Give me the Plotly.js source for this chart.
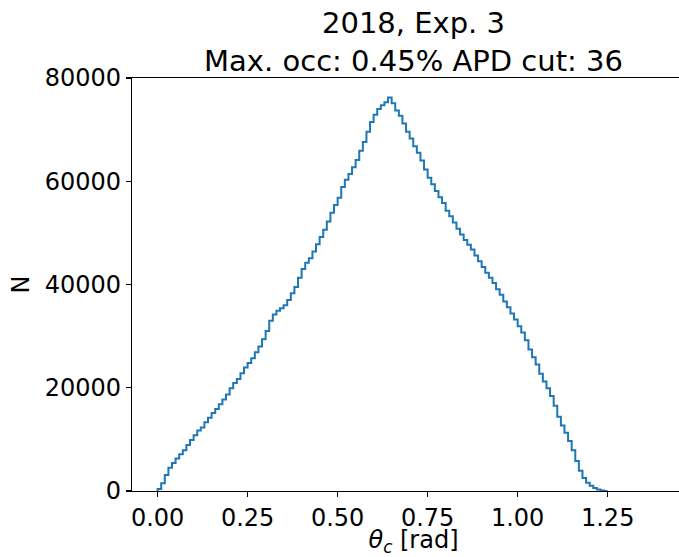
<!DOCTYPE html>
<html>
<head>
<meta charset="utf-8">
<script src="https://cdn.plot.ly/plotly-3.0.1.min.js"></script>
<style>
html, body { margin: 0; padding: 0; overflow: hidden; background: #fff; }
#chart { width: 695px; height: 557px; }
</style>
</head>
<body>
<div id="chart"></div>
<script>
// Histogram of Cherenkov angle theta_c, bins of width 0.01 rad starting at 0
const binStart = 0.0;
const binWidth = 0.01;
const counts = [
  400, 1500, 3100, 4500, 5400, 6300, 7100, 7900, 8900, 9900,
  10800, 11700, 12300, 13300, 14200, 15100, 15900, 16800, 17700, 18700,
  19900, 20900, 21700, 22800, 23900, 24800, 25700, 26900, 28000, 29400,
  31000, 33000, 34200, 34900, 35400, 36000, 37000, 38300, 39500, 41300,
  43000, 44200, 45100, 46400, 47800, 49200, 50600, 52200, 53900, 55400,
  56800, 58900, 60300, 61400, 62700, 64100, 65900, 67600, 69600, 71500,
  72900, 74000, 74700, 75300, 76200, 75100, 73700, 72700, 71200, 69600,
  68300, 66800, 65500, 64000, 62300, 60700, 59400, 58100, 56900, 55800,
  54300, 53200, 52000, 50800, 49700, 48600, 47700, 46800, 45600, 44500,
  43400, 42300, 41300, 40300, 39100, 38000, 36700, 35600, 34400, 33200,
  31900, 30700, 29200, 27400, 25900, 24500, 22700, 21200, 19900, 18400,
  16500, 14400, 12700, 11300, 9700, 7900, 5800, 3900, 2500, 1600,
  1000, 600, 300, 100, 0
];
const xTickVals = [0.00, 0.25, 0.50, 0.75, 1.00, 1.25];
const yTickVals = [0, 20000, 40000, 60000, 80000];
const titleText = "2018, Exp. 3<br>Max. occ: 0.45% APD cut: 36";
const xLabel = "<i>θ</i><sub><i>c</i></sub> [rad]";
const yLabel = "N";

// build step outline (matplotlib histtype='step')
const n = counts.length;
const edges = [];
for (let k = 0; k <= n; k++) edges.push(binStart + k * binWidth);
const sx = [edges[0]], sy = [0];
for (let k = 0; k < n; k++) { sx.push(edges[k]); sy.push(counts[k]); }
sx.push(edges[n]); sy.push(counts[n - 1]);
sx.push(edges[n]); sy.push(0);

const font = "DejaVu Sans, sans-serif";
const trace = {
  x: sx, y: sy, type: "scatter", mode: "lines",
  line: { shape: "hv", color: "#1f77b4", width: 2 },
  hoverinfo: "skip"
};
const layout = {
  width: 695, height: 557,
  margin: { l: 132, r: 0, t: 78, b: 66 },
  paper_bgcolor: "#fff", plot_bgcolor: "#fff",
  showlegend: false,
  font: { family: font, color: "#000", size: 24 },
  title: {
    text: titleText,
    font: { family: font, size: 29, color: "#000" },
    x: 0.5, xref: "paper", xanchor: "center",
    y: 1 - 33 / 557, yref: "container", yanchor: "top"
  },
  xaxis: {
    range: [-0.0711, 1.4925],
    tickvals: xTickVals, tickformat: ".2f",
    ticks: "outside", ticklen: 5, tickwidth: 1.2, tickcolor: "#000",
    showline: true, linecolor: "#000", linewidth: 1.2, mirror: true,
    showgrid: false, zeroline: false,
    tickfont: { family: font, size: 24, color: "#000" },
    title: { text: xLabel, font: { family: font, size: 24, color: "#000" }, standoff: 6 }
  },
  yaxis: {
    range: [0, 80000],
    tickvals: yTickVals, tickformat: "d",
    ticks: "outside", ticklen: 5, tickwidth: 1.2, tickcolor: "#000",
    showline: true, linecolor: "#000", linewidth: 1.2, mirror: true,
    showgrid: false, zeroline: false,
    tickfont: { family: font, size: 24, color: "#000" },
    title: { text: yLabel, font: { family: font, size: 24, color: "#000" }, standoff: 8 }
  }
};
Plotly.newPlot("chart", [trace], layout, { displayModeBar: false, staticPlot: true });
</script>
</body>
</html>
